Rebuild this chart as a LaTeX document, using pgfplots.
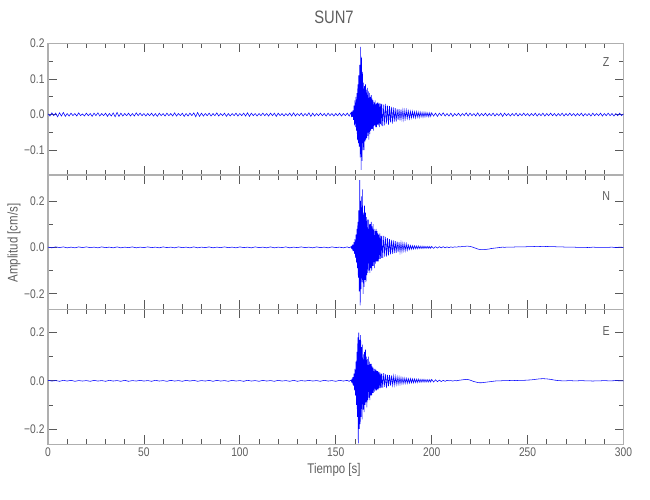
\documentclass[border=0pt]{standalone}
\usepackage{pgfplots}
\pgfplotsset{compat=1.18}
\usepackage{fontspec}
\setmainfont{Liberation Sans}[FakeStretch=0.82]
\definecolor{frame}{RGB}{175,175,175}
\definecolor{tk}{RGB}{90,90,90}
\definecolor{txt}{RGB}{95,95,95}
\pgfplotsset{
 seis/.style={
  scale only axis, width=575.5pt, xmin=0, xmax=300,
  xtick={0,50,...,300}, minor x tick num=4, minor y tick num=1,
  tick align=inside, major tick length=9pt, minor tick length=5pt,
  axis line style={draw=frame, line width=1.3pt},
  every tick/.style={draw=tk, line width=0.7pt},
  tick label style={font=\fontsize{12.5}{13}\selectfont, text=txt},
  /pgf/number format/assume math mode=true,
  xticklabels={},
  clip=true,
 },
 tr/.style={blue, line width=0.55pt, no markers},
}
\begin{document}
\begin{tikzpicture}
\path[use as bounding box] (0pt,0pt) rectangle (650pt,500pt);
\node[font=\fontsize{18}{20}\selectfont, text=txt] at (334pt,483pt) {SUN7};
\node[rotate=90, font=\fontsize{14}{15}\selectfont, text=txt] at (14pt,257pt) {Amplitud [cm/s]};
\node[font=\fontsize{14}{15}\selectfont, text=txt] at (334pt,30pt) {Tiempo [s]};

% ---------------- Z ----------------
\begin{axis}[seis, at={(48pt,325pt)}, anchor=south west, height=131.7pt,
  ymin=-0.1696, ymax=0.2003, ytick={-0.1,0,0.1,0.2}, yticklabels={−0.1,0.0,0.1,0.2}]
\addplot[tr] coordinates {
(0,.002)(1,-.004)(2,.005)(3,-.003)(4,.004)(5,-.006)(6,.005)(7,-.004)(8,.006)(9,-.005)
(10,.003)(11,-.004)(12,.004)(13,-.003)(14,.003)(15,-.004)(16,.005)(17,-.003)(18,.002)(19,-.004)
(20,.004)(21,-.003)(22,.003)(23,-.005)(24,.004)(25,-.003)(26,.005)(27,-.004)(28,.003)(29,-.003)
(30,.004)(31,-.005)(32,.003)(33,-.004)(34,.005)(35,-.006)(36,.006)(37,-.005)(38,.004)(39,-.004)
(40,.003)(41,-.003)(42,.004)(43,-.004)(44,.003)(45,-.004)(46,.005)(47,-.003)(48,.004)(49,-.003)
(50,.003)(51,-.004)(52,.003)(53,-.003)(54,.004)(55,-.004)(56,.003)(57,-.005)(58,.004)(59,-.003)
(60,.003)(61,-.004)(62,.004)(63,-.003)(64,.003)(65,-.004)(66,.005)(67,-.004)(68,.003)(69,-.003)
(70,.004)(71,-.005)(72,.003)(73,-.004)(74,.004)(75,-.003)(76,.005)(77,-.006)(78,.006)(79,-.005)
(80,.004)(81,-.004)(82,.003)(83,-.003)(84,.004)(85,-.004)(86,.003)(87,-.003)(88,.005)(89,-.004)
(90,.003)(91,-.003)(92,.004)(93,-.005)(94,.003)(95,-.004)(96,.003)(97,-.003)(98,.004)(99,-.004)
(100,.003)(101,-.003)(102,.004)(103,-.004)(104,.005)(105,-.005)(106,.004)(107,-.003)(108,.003)(109,-.004)
(110,.003)(111,-.003)(112,.004)(113,-.003)(114,.003)(115,-.004)(116,.004)(117,-.003)(118,.004)(119,-.005)
(120,.004)(121,-.003)(122,.003)(123,-.004)(124,.003)(125,-.003)(126,.004)(127,-.004)(128,.005)(129,-.004)
(130,.003)(131,-.003)(132,.004)(133,-.004)(134,.003)(135,-.003)(136,.005)(137,-.005)(138,.004)(139,-.004)
(140,.003)(141,-.003)(142,.004)(143,-.003)(144,.003)(145,-.004)(146,.004)(147,-.003)(148,.003)(149,-.004)
(150,.003)(151,-.003)(152,.004)(153,-.004)(154,.003)(155,-.003)(156,.004)(157,-.004)
(158,.006)(158.25,-.007)(158.5,.008)(158.75,-.006)(159,.012)(159.25,-.015)(159.5,.025)(159.75,-.03)
(160,.04)(160.25,-.035)(160.5,.05)(160.75,-.045)(161,.06)(161.25,-.07)(161.5,.085)(161.75,-.08)
(162,.11)(162.25,-.09)(162.5,.14)(162.75,-.12)(163,.19)(163.25,-.155)(163.5,.16)(163.75,-.13)
(164,.12)(164.25,-.1)(164.5,.09)(164.75,-.1)(165,.08)(165.25,-.075)(165.5,.085)(165.75,-.07)
(166,.07)(166.25,-.065)(166.5,.075)(166.75,-.06)(167,.065)(167.25,-.07)(167.5,.06)(167.75,-.055)
(168,.05)(168.25,-.045)(168.5,.055)(168.75,-.04)(169,.045)(169.25,-.04)(169.5,.04)(169.75,-.045)
(170,.035)(170.25,-.03)(170.5,.04)(170.75,-.035)(171,.03)(171.25,-.035)(171.5,.032)(171.75,-.028)
(172,.035)(172.25,-.03)(172.5,.03)(172.75,-.035)(173,.032)(173.25,-.027)(173.5,.03)(173.75,-.03)
(174,.03)(174.5,-.032)(175,.028)(175.5,-.03)(176,.03)(176.5,-.025)(177,.025)(177.5,-.028)(178,.024)(178.5,-.022)
(179,.022)(179.5,-.025)(180,.02)(180.5,-.02)(181,.018)(181.5,-.02)(182,.016)(182.5,-.015)(183,.015)(183.5,-.016)
(184,.014)(184.5,-.013)(185,.013)(185.5,-.014)(186,.012)(186.5,-.011)(187,.012)(187.5,-.01)(188,.01)(188.5,-.011)
(189,.009)(189.5,-.009)(190,.009)(190.5,-.008)(191,.008)(191.5,-.009)(192,.008)(192.5,-.007)(193,.007)(193.5,-.008)
(194,.007)(194.5,-.006)(195,.006)(195.5,-.007)(196,.006)(196.5,-.006)(197,.006)(197.5,-.005)(198,.005)(198.5,-.006)
(199,.005)(199.5,-.005)
(200,.005)(201,-.004)(202,.004)(203,-.005)(204,.004)(205,-.003)(206,.005)(207,-.004)(208,.003)(209,-.004)
(210,.004)(211,-.005)(212,.003)(213,-.003)(214,.004)(215,-.004)(216,.003)(217,-.003)(218,.005)(219,-.004)
(220,.004)(221,-.003)(222,.003)(223,-.004)(224,.005)(225,-.004)(226,.003)(227,-.003)(228,.004)(229,-.004)
(230,.003)(231,-.003)(232,.004)(233,-.004)(234,.003)(235,-.003)(236,.004)(237,-.005)(238,.004)(239,-.003)
(240,.003)(241,-.004)(242,.003)(243,-.003)(244,.004)(245,-.004)(246,.003)(247,-.003)(248,.004)(249,-.003)
(250,.003)(251,-.004)(252,.003)(253,-.003)(254,.004)(255,-.004)(256,.003)(257,-.003)(258,.004)(259,-.004)
(260,.003)(261,-.003)(262,.004)(263,-.003)(264,.003)(265,-.004)(266,.003)(267,-.003)(268,.004)(269,-.004)
(270,.003)(271,-.003)(272,.004)(273,-.003)(274,.003)(275,-.004)(276,.003)(277,-.003)(278,.004)(279,-.004)
(280,.003)(281,-.003)(282,.003)(283,-.004)(284,.004)(285,-.003)(286,.003)(287,-.003)(288,.004)(289,-.004)
(290,.003)(291,-.003)(292,.004)(293,-.003)(294,.003)(295,-.004)(296,.003)(297,-.003)(298,.004)(299,-.003)(300,.002)
};
\node[font=\fontsize{13}{14}\selectfont, text=txt] at (rel axis cs:0.97,0.86) {Z};
\end{axis}

% ---------------- N ----------------
\begin{axis}[seis, at={(48pt,190.7pt)}, anchor=south west, height=134.3pt,
  ymin=-0.267, ymax=0.312, ytick={-0.2,0,0.2}, yticklabels={−0.2,0.0,0.2}]
\addplot[tr] coordinates {
(0,.001)(2,-.002)(4,.002)(6,-.001)(8,.002)(10,-.002)(12,.001)(14,-.002)(16,.002)(18,-.001)
(20,.002)(22,-.001)(24,.001)(26,-.002)(28,.002)(30,-.001)(32,.001)(34,-.002)(36,.002)(38,-.002)
(40,.001)(42,-.001)(44,.002)(46,-.002)(48,.001)(50,-.001)(52,.002)(54,-.001)(56,.001)(58,-.002)
(60,.002)(62,-.001)(64,.001)(66,-.002)(68,.002)(70,-.001)(72,.001)(74,-.002)(76,.002)(78,-.002)
(80,.001)(82,-.001)(84,.002)(86,-.002)(88,.001)(90,-.001)(92,.002)(94,-.001)(96,.001)(98,-.002)
(100,.002)(102,-.001)(104,.001)(106,-.002)(108,.002)(110,-.001)(112,.001)(114,-.002)(116,.002)(118,-.002)
(120,.001)(122,-.001)(124,.002)(126,-.002)(128,.001)(130,-.001)(132,.002)(134,-.001)(136,.001)(138,-.002)
(140,.002)(142,-.001)(144,.001)(146,-.002)(148,.002)(150,-.001)(152,.001)(154,-.002)(156,.002)(157,-.002)
(158,.003)(158.25,-.004)(158.5,.006)(158.75,-.008)(159,.012)(159.25,-.016)(159.5,.022)(159.75,-.028)
(160,.035)(160.25,-.045)(160.5,.055)(160.75,-.065)(161,.08)(161.25,-.09)(161.5,.11)(161.75,-.13)
(162,.16)(162.25,-.19)(162.5,.29)(162.75,-.25)(163,.2)(163.25,-.18)(163.5,.22)(163.75,-.15)
(164,.25)(164.25,-.2)(164.5,.15)(164.75,-.17)(165,.18)(165.25,-.14)(165.5,.15)(165.75,-.15)
(166,.13)(166.25,-.12)(166.5,.12)(166.75,-.11)(167,.12)(167.25,-.1)(167.5,.1)(167.75,-.11)
(168,.1)(168.25,-.09)(168.5,.11)(168.75,-.1)(169,.09)(169.25,-.08)(169.5,.1)(169.75,-.08)
(170,.08)(170.25,-.09)(170.5,.07)(170.75,-.07)(171,.08)(171.25,-.06)(171.5,.07)(171.75,-.06)
(172,.06)(172.25,-.06)(172.5,.055)(172.75,-.05)(173,.06)(173.25,-.05)(173.5,.05)(173.75,-.045)
(174,.05)(174.5,-.045)(175,.05)(175.5,-.04)(176,.045)(176.5,-.04)(177,.04)(177.5,-.035)(178,.035)(178.5,-.03)
(179,.032)(179.5,-.028)(180,.03)(180.5,-.025)(181,.027)(181.5,-.024)(182,.025)(182.5,-.02)(183,.022)(183.5,-.02)
(184,.02)(184.5,-.018)(185,.018)(185.5,-.015)(186,.016)(186.5,-.014)(187,.015)(187.5,-.012)(188,.01)(188.5,-.009)
(189,.008)(189.5,-.008)(190,.007)(190.5,-.007)(191,.007)(191.5,-.006)(192,.006)(192.5,-.006)(193,.006)(193.5,-.005)
(194,.005)(194.5,-.005)(195,.005)(195.5,-.005)(196,.005)(196.5,-.004)(197,.004)(197.5,-.004)(198,.004)(198.5,-.004)
(199,.004)(199.5,-.004)
(200,.004)(201,-.004)(202,.003)(203,-.003)(204,.003)(205,-.002)(206,.003)(207,-.002)(208,.002)(209,-.001)
(210,.002)(211,0)(212,.002)(213,.001)(214,.003)(215,.002)(216,.004)(217,.004)(218,.005)(219,.005)
(220,.004)(221,.002)(222,-.001)(223,-.004)(224,-.007)(225,-.009)(226,-.01)(227,-.01)(228,-.009)(229,-.008)
(230,-.007)(231,-.005)(232,-.004)(233,-.003)(234,-.002)(235,-.001)(236,0)(237,.001)(238,0)(239,.001)
(240,.001)(242,.001)(244,.002)(246,.002)(248,.002)(250,.003)(252,.003)(254,.004)(256,.004)(258,.003)
(260,.004)(262,.003)(264,.003)(266,.002)(268,.002)(270,.001)(272,.001)(274,.001)(276,0)(278,0)
(280,0)(282,-.001)(284,.001)(286,0)(288,0)(290,0)(292,0)(294,.001)(296,-.001)(298,.001)(300,0)
};
\node[font=\fontsize{13}{14}\selectfont, text=txt] at (rel axis cs:0.97,0.84) {N};
\end{axis}

% ---------------- E ----------------
\begin{axis}[seis, at={(48pt,55.7pt)}, anchor=south west, height=135pt,
  ymin=-0.2636, ymax=0.297, ytick={-0.2,0,0.2}, yticklabels={−0.2,0.0,0.2},
  xticklabels={0,50,100,150,200,250,300}]
\addplot[tr] coordinates {
(0,.002)(2,-.001)(4,.001)(6,-.002)(8,.002)(10,-.001)(12,.002)(14,-.002)(16,.001)(18,-.001)
(20,.001)(22,-.002)(24,.002)(26,-.001)(28,.001)(30,-.002)(32,.002)(34,-.001)(36,.001)(38,-.002)
(40,.002)(42,-.002)(44,.001)(46,-.001)(48,.002)(50,-.001)(52,.001)(54,-.002)(56,.002)(58,-.001)
(60,.001)(62,-.002)(64,.002)(66,-.001)(68,.001)(70,-.002)(72,.002)(74,-.001)(76,.002)(78,-.002)
(80,.001)(82,-.001)(84,.002)(86,-.002)(88,.002)(90,-.001)(92,.001)(94,-.002)(96,.002)(98,-.001)
(100,.001)(102,-.002)(104,.002)(106,-.001)(108,.001)(110,-.002)(112,.002)(114,-.001)(116,.001)(118,-.002)
(120,.002)(122,-.001)(124,.001)(126,-.002)(128,.002)(130,-.002)(132,.001)(134,-.001)(136,.002)(138,-.001)
(140,.001)(142,-.002)(144,.002)(146,-.001)(148,.001)(150,-.002)(152,.002)(154,-.001)(156,.002)(157,-.002)
(158,.003)(158.25,-.004)(158.5,.006)(158.75,-.008)(159,.015)(159.25,-.02)(159.5,.03)(159.75,-.04)
(160,.05)(160.25,-.06)(160.5,.08)(160.75,-.1)(161,.12)(161.25,-.15)(161.5,.18)(161.75,-.26)
(162,.2)(162.25,-.2)(162.5,.17)(162.75,-.18)(163,.19)(163.25,-.15)(163.5,.14)(163.75,-.16)
(164,.15)(164.25,-.12)(164.5,.11)(164.75,-.13)(165,.12)(165.25,-.1)(165.5,.13)(165.75,-.09)
(166,.1)(166.25,-.11)(166.5,.09)(166.75,-.08)(167,.1)(167.25,-.07)(167.5,.08)(167.75,-.08)
(168,.07)(168.25,-.06)(168.5,.07)(168.75,-.06)(169,.06)(169.25,-.05)(169.5,.055)(169.75,-.05)
(170,.05)(170.25,-.045)(170.5,.05)(170.75,-.04)(171,.045)(171.25,-.04)(171.5,.04)(171.75,-.035)
(172,.04)(172.25,-.035)(172.5,.035)(172.75,-.03)(173,.035)(173.25,-.03)(173.5,.03)(173.75,-.028)
(174,.03)(174.5,-.028)(175,.032)(175.5,-.025)(176,.028)(176.5,-.03)(177,.025)(177.5,-.022)(178,.024)(178.5,-.02)
(179,.022)(179.5,-.018)(180,.02)(180.5,-.017)(181,.018)(181.5,-.015)(182,.016)(182.5,-.014)(183,.015)(183.5,-.013)
(184,.013)(184.5,-.012)(185,.012)(185.5,-.011)(186,.011)(186.5,-.01)(187,.01)(187.5,-.01)(188,.009)(188.5,-.009)
(189,.009)(189.5,-.008)(190,.008)(190.5,-.008)(191,.008)(191.5,-.007)(192,.007)(192.5,-.007)(193,.007)(193.5,-.006)
(194,.006)(194.5,-.006)(195,.006)(195.5,-.005)(196,.006)(196.5,-.005)(197,.005)(197.5,-.005)(198,.005)(198.5,-.005)
(199,.005)(199.5,-.005)
(200,.006)(201,-.005)(202,.004)(203,-.004)(204,.003)(205,-.003)(206,.002)(207,-.002)(208,.002)(209,0)
(210,.001)(211,-.001)(212,.001)(213,0)(214,.002)(215,.003)(216,.004)(217,.005)(218,.006)(219,.005)
(220,.003)(221,0)(222,-.003)(223,-.005)(224,-.007)(225,-.008)(226,-.008)(227,-.007)(228,-.006)(229,-.005)
(230,-.004)(231,-.003)(232,-.002)(233,-.001)(234,0)(236,0)(238,.001)(240,.001)(242,.002)(244,.001)
(246,.002)(248,.002)(250,.003)(252,.004)(254,.006)(256,.008)(258,.009)(260,.008)(262,.006)(264,.003)
(266,.001)(268,0)(270,0)(272,.001)(274,0)(276,0)(278,.001)(280,0)(282,0)(284,-.001)
(286,0)(288,0)(290,.001)(292,0)(294,0)(296,.001)(298,0)(300,0)
};
\node[font=\fontsize{13}{14}\selectfont, text=txt] at (rel axis cs:0.97,0.84) {E};
\end{axis}
\end{tikzpicture}
\end{document}
